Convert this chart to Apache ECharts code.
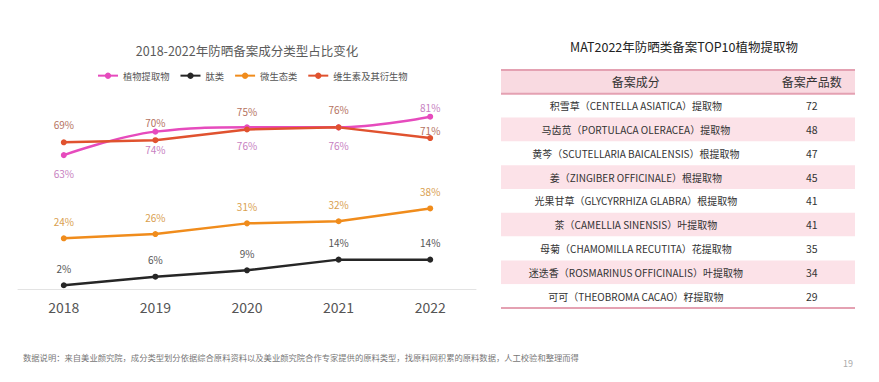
<!DOCTYPE html>
<html><head><meta charset="utf-8">
<script src="https://cdn.jsdelivr.net/npm/echarts@6/dist/echarts.min.js"></script>
<style>html,body{margin:0;padding:0;background:#fff}#c{width:879px;height:382px}</style>
</head><body><div id="c"></div>
<script>
const years = ['2018', '2019', '2020', '2021', '2022'];
const seriesNames = ['植物提取物', '肽类', '微生态类', '维生素及其衍生物'];
const plantExtract = [63, 74, 76, 76, 81];
const peptides = [2, 6, 9, 14, 14];
const microecology = [24, 26, 31, 32, 38];
const vitamins = [69, 70, 75, 76, 71];
const chartTitle = '2018-2022年防晒备案成分类型占比变化';
const tableTitle = 'MAT2022年防晒类备案TOP10植物提取物';
const tableHeader = ['备案成分', '备案产品数'];
const ingredients = [
  '积雪草（CENTELLA ASIATICA）提取物',
  '马齿苋（PORTULACA OLERACEA）提取物',
  '黄芩（SCUTELLARIA BAICALENSIS）根提取物',
  '姜（ZINGIBER OFFICINALE）根提取物',
  '光果甘草（GLYCYRRHIZA GLABRA）根提取物',
  '茶（CAMELLIA SINENSIS）叶提取物',
  '母菊（CHAMOMILLA RECUTITA）花提取物',
  '迷迭香（ROSMARINUS OFFICINALIS）叶提取物',
  '可可（THEOBROMA CACAO）籽提取物'
];
const productCounts = [72, 48, 47, 45, 41, 41, 35, 34, 29];
const footnote = '数据说明：来自美业颜究院，成分类型划分依据综合原料资料以及美业颜究院合作专家提供的原料类型，找原料网积累的原料数据，人工校验和整理而得';
const pageNumber = '19';

const FONT = '"Noto Sans CJK SC", "Noto Sans", sans-serif';
const chart = echarts.init(document.getElementById('c'), null, {renderer: 'svg'});

function pct(v) { return v + '%'; }
function makeData(arr, posFn) {
  return arr.map((v, i) => {
    const p = posFn(i);
    return {value: v, label: {position: p.pos, distance: p.dist}};
  });
}

const tableRows = [tableHeader[0]].concat(ingredients);
const tableData = tableRows.map((_, i) => [0, i]);

const option = {
  backgroundColor: '#ffffff',
  textStyle: {fontFamily: FONT},
  graphic: [
    {type: 'text', x: 247, y: 50, style: {text: chartTitle, fill: '#5a5a5a', font: '12.5px ' + FONT, align: 'center', verticalAlign: 'middle'}},
    {type: 'text', x: 684, y: 46, style: {text: tableTitle, fill: '#222', font: '12.5px ' + FONT, align: 'center', verticalAlign: 'middle'}},
    {type: 'text', x: 23, y: 357, style: {text: footnote, fill: '#777', font: '8.3px ' + FONT, align: 'left', verticalAlign: 'middle'}},
    {type: 'text', x: 848, y: 363, style: {text: pageNumber, fill: '#aaa', font: '9px ' + FONT, align: 'center', verticalAlign: 'middle'}}
  ],
  legend: {
    data: seriesNames,
    left: 97, top: 71, padding: 0,
    itemWidth: 20, itemHeight: 8, itemGap: 10,
    textStyle: {fontSize: 9.3, color: '#555', fontFamily: FONT}
  },
  grid: [
    {left: 18, width: 458, top: 97.5, height: 192},
    {left: 501, width: 354, top: 70, height: 238}
  ],
  xAxis: [
    {
      type: 'category', data: years, gridIndex: 0, boundaryGap: true,
      axisLine: {lineStyle: {color: '#e3e3e3', width: 1}},
      axisTick: {show: false},
      axisLabel: {fontSize: 14, color: '#555', margin: 10, fontFamily: FONT}
    },
    {type: 'value', gridIndex: 1, min: 0, max: 1, show: false}
  ],
  yAxis: [
    {type: 'value', gridIndex: 0, min: 0, max: 90, show: false},
    {type: 'category', gridIndex: 1, data: tableRows, inverse: true, show: false}
  ],
  series: [
    {
      name: seriesNames[0], type: 'line', smooth: 0.4,
      data: makeData(plantExtract, i => i === 4 ? {pos: 'top', dist: 1} : {pos: 'bottom', dist: 10}),
      symbol: 'circle', symbolSize: 6,
      lineStyle: {width: 2.5, color: '#e64bbd'}, itemStyle: {color: '#e64bbd'},
      label: {show: true, formatter: p => pct(p.value), fontSize: 10, color: '#c77fbf', fontFamily: FONT}
    },
    {
      name: seriesNames[1], type: 'line',
      data: makeData(peptides, () => ({pos: 'top', dist: 9})),
      symbol: 'circle', symbolSize: 6,
      lineStyle: {width: 2.5, color: '#262626'}, itemStyle: {color: '#262626'},
      label: {show: true, formatter: p => pct(p.value), fontSize: 10, color: '#555', fontFamily: FONT}
    },
    {
      name: seriesNames[2], type: 'line',
      data: makeData(microecology, () => ({pos: 'top', dist: 9})),
      symbol: 'circle', symbolSize: 6,
      lineStyle: {width: 2.5, color: '#f08c1c'}, itemStyle: {color: '#f08c1c'},
      label: {show: true, formatter: p => pct(p.value), fontSize: 10, color: '#d9a050', fontFamily: FONT}
    },
    {
      name: seriesNames[3], type: 'line',
      data: makeData(vitamins, i => i === 4 ? {pos: 'top', dist: 0} : {pos: 'top', dist: 10}),
      symbol: 'circle', symbolSize: 6,
      lineStyle: {width: 2.5, color: '#e0522f'}, itemStyle: {color: '#e0522f'},
      label: {show: true, formatter: p => pct(p.value), fontSize: 10, color: '#b5735f', fontFamily: FONT}
    },
    {
      type: 'custom', xAxisIndex: 1, yAxisIndex: 1,
      encode: {x: 0, y: 1},
      data: tableData,
      silent: true,
      renderItem: function (params, api) {
        const r = api.value(1);
        const cs = params.coordSys;
        const cy = api.coord([0, r])[1];
        const h = api.size([0, 1])[1];
        const top = cy - h / 2;
        const isHeader = r === 0;
        const fill = isHeader ? '#f9dae1' : (r % 2 === 0 ? '#fce2e8' : '#ffffff');
        const children = [
          {type: 'rect', shape: {x: cs.x, y: top, width: cs.width, height: h}, style: {fill: fill}}
        ];
        const texts = isHeader ? tableHeader : [ingredients[r - 1], String(productCounts[r - 1])];
        const fs = isHeader ? 12 : 10;
        children.push({type: 'text', x: cs.x + cs.width * 0.381, y: cy, style: {text: texts[0], fill: '#333', font: fs + 'px ' + FONT, align: 'center', verticalAlign: 'middle'}});
        children.push({type: 'text', x: cs.x + cs.width * 0.878, y: cy, style: {text: texts[1], fill: '#333', font: (isHeader ? 12 : 10.5) + 'px ' + FONT, align: 'center', verticalAlign: 'middle'}});
        const lineStyle = {stroke: '#e4a1b2', lineWidth: 2};
        if (isHeader) {
          children.push({type: 'line', shape: {x1: cs.x, y1: top, x2: cs.x + cs.width, y2: top}, style: lineStyle});
        }
        if (r === 1) {
          children.push({type: 'line', shape: {x1: cs.x, y1: top, x2: cs.x + cs.width, y2: top}, style: lineStyle});
        }
        if (r === tableRows.length - 1) {
          children.push({type: 'line', shape: {x1: cs.x, y1: top + h, x2: cs.x + cs.width, y2: top + h}, style: lineStyle});
        }
        return {type: 'group', children: children};
      }
    }
  ]
};
chart.setOption(option);
</script>
</body></html>
